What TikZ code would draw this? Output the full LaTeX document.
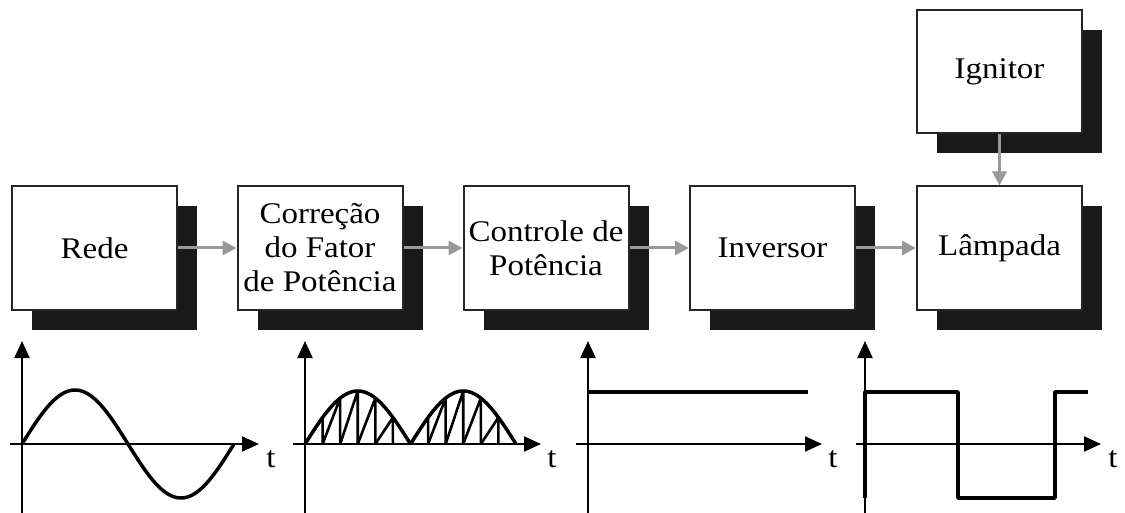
\documentclass[tikz,border=0pt]{standalone}
\usepackage{fontspec}
\setmainfont{Liberation Serif}[FakeStretch=1.1]
\usetikzlibrary{arrows.meta,shadows}
\begin{document}
\begin{tikzpicture}[x=1pt,y=-1pt,
  blk/.style={draw=black!85, line width=2pt, fill=white, minimum width=165pt, minimum height=123pt,
    inner sep=0pt, align=center, font=\fontsize{30}{34}\selectfont,
    drop shadow={shadow xshift=20pt, shadow yshift=-20pt, fill=black!90, opacity=1}},
  garrow/.style={draw=black!40, line width=3pt, -{Triangle[length=14pt,width=14pt]}},
  axisline/.style={draw=black, line width=2.2pt, -{Triangle[length=17pt,width=15pt]}},
  wave/.style={draw=black, line width=3.5pt, line join=round},
  saw/.style={draw=black, line width=2.6pt, line join=round},
  lbl/.style={font=\fontsize{30}{34}\selectfont, inner sep=0pt}]
\useasboundingbox (0,0) rectangle (1125,513);

% blocks
\node[blk] (rede) at (94.5,248) {Rede};
\node[blk] (pfc) at (320,248) {Correção\\do Fator\\de Potência};
\node[blk] (ctrl) at (546,248) {Controle de\\Potência};
\node[blk] (inv) at (772.5,248) {Inversor};
\node[blk] (lamp) at (999.5,248) {Lâmpada};
\node[blk] (ign) at (999.5,71.5) {Ignitor};

\draw[garrow] (rede) -- (pfc);
\draw[garrow] (pfc) -- (ctrl);
\draw[garrow] (ctrl) -- (inv);
\draw[garrow] (inv) -- (lamp);
\draw[garrow] (ign) -- (lamp);

% panel 1: sine
\draw[axisline] (22,513) -- (22,341);
\draw[axisline] (10,444) -- (259,444);
\node[lbl] (t1) at (271,459) {t};
\draw[wave] plot[domain=0:360, samples=120] ({22+\x/360*212},{444-54*sin(\x)});

% panel 2: rectified with sawtooth
\draw[axisline] (305,513) -- (305,341);
\draw[axisline] (293,444) -- (541,444);
\node[lbl] (t2) at (552,459) {t};
\foreach \h in {0,1}{
  \pgfmathsetmacro{\xo}{305+\h*105.5}
  \draw[wave] plot[domain=0:180, samples=60] ({\xo+\x/180*105.5},{444-53*sin(\x)});
  \foreach \k in {0,...,4}{
    \pgfmathsetmacro{\xa}{\xo+\k*105.5/6}
    \pgfmathsetmacro{\xb}{\xo+(\k+1)*105.5/6}
    \pgfmathsetmacro{\yb}{444-53*sin((\k+1)*30)}
    \draw[saw] (\xa,444) -- (\xb,\yb) -- (\xb,444);
  }
}

% panel 3: DC
\draw[axisline] (588,513) -- (588,341);
\draw[axisline] (576,444) -- (822,444);
\node[lbl] (t3) at (833,459) {t};
\draw[wave] (588,392) -- (808,392);

% panel 4: square wave
\draw[axisline] (865,513) -- (865,341);
\draw[axisline] (856,444) -- (1101,444);
\node[lbl] (t4) at (1113,459) {t};
\draw[wave] (865,498) -- (865,392) -- (958,392) -- (958,498) -- (1055,498) -- (1055,392) -- (1088,392);
\end{tikzpicture}
\end{document}
